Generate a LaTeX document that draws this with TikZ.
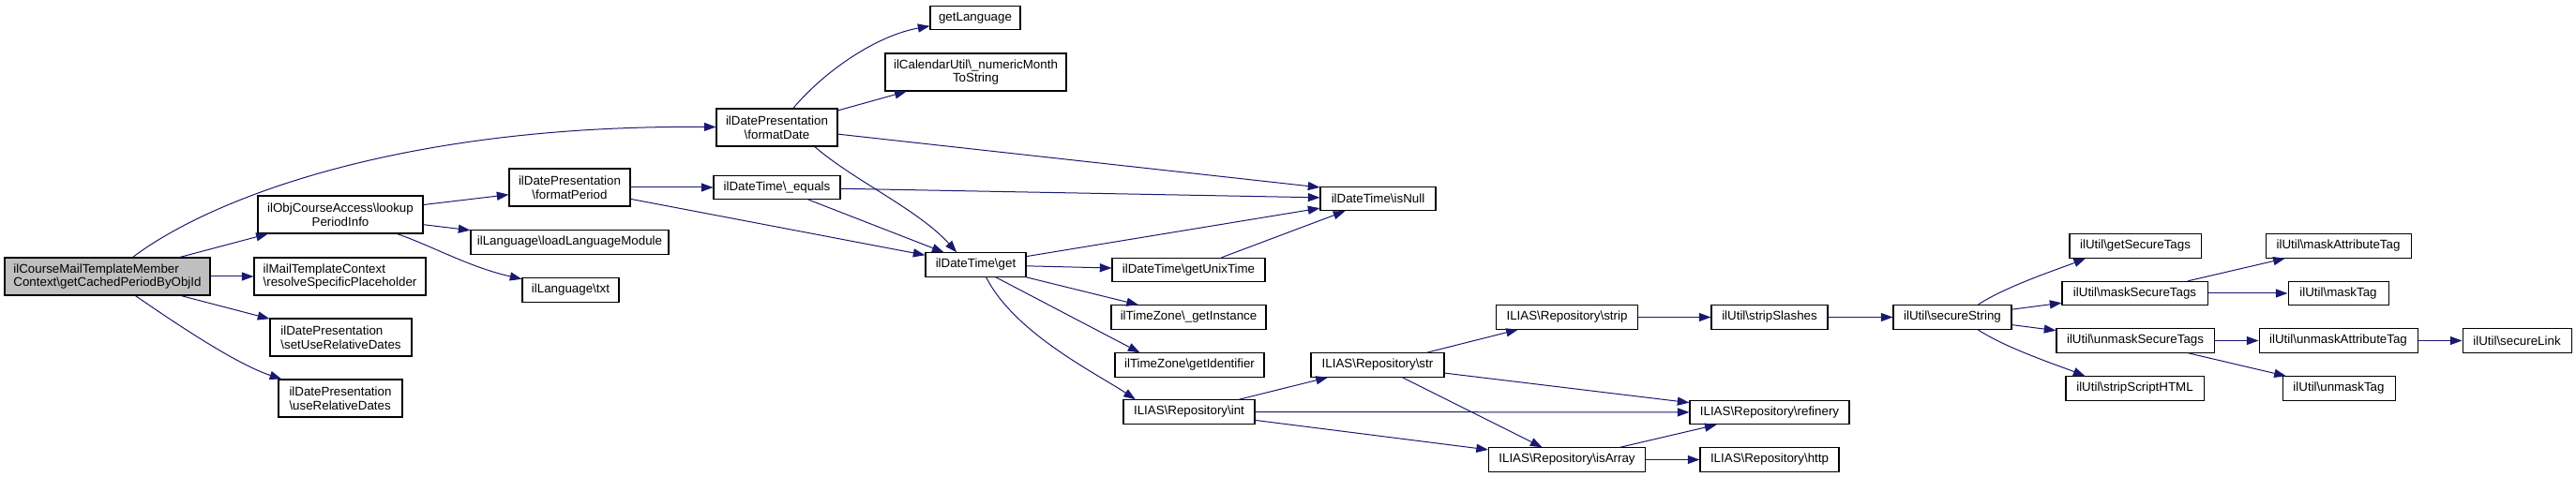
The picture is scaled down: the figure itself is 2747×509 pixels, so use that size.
\documentclass[tikz,border=0pt]{standalone}
\usepackage{fontspec}
\setmainfont{Liberation Sans}
\usetikzlibrary{arrows.meta}
\definecolor{edgeblue}{HTML}{191970}
\definecolor{mainfill}{HTML}{BFBFBF}
\newcommand\bsl{\textbackslash}

\begin{document}
\begin{tikzpicture}[x=0.75pt, y=-0.75pt, >={Triangle[length=9.5pt,width=6.8pt]},
  fn/.style={draw=black, line width=0.8pt, font=\fontsize{10}{11}\selectfont, inner xsep=2pt, inner ysep=1pt, minimum height=19pt},
  fnn/.style={fn, minimum height=30pt},
  wd/.style={minimum width=#1*0.75pt},
  callto/.style={draw=edgeblue, line width=0.75pt, ->}]
\useasboundingbox (0,0) rectangle (2747,509);
\node[fnn, wd=219, fill=mainfill, align=left] (main) at (114.5,295) {ilCourseMailTemplateMember\\Context\bsl getCachedPeriodByObjId};
\node[fnn, wd=176, align=center] (lpi) at (363,229) {ilObjCourseAccess\bsl lookup\\PeriodInfo};
\node[fnn, wd=183, align=left] (rsp) at (362.5,295) {ilMailTemplateContext\\\bsl resolveSpecificPlaceholder};
\node[fnn, wd=151, align=left] (surd) at (363.5,360) {ilDatePresentation\\\bsl setUseRelativeDates};
\node[fnn, wd=132, align=left] (urd) at (363,425) {ilDatePresentation\\\bsl useRelativeDates};
\node[fnn, wd=129, align=center] (fd) at (828.5,136) {ilDatePresentation\\\bsl formatDate};
\node[fnn, wd=129, align=center] (fp) at (607.5,200) {ilDatePresentation\\\bsl formatPeriod};
\node[fn, wd=135] (eq) at (828.5,200) {ilDateTime\bsl\_equals};
\node[fn, wd=211] (llm) at (607.5,258.5) {ilLanguage\bsl loadLanguageModule};
\node[fn, wd=103] (txt) at (608.5,309.5) {ilLanguage\bsl txt};
\node[fn, wd=96] (gl) at (1040,19) {getLanguage};
\node[fnn, wd=193, align=center] (nms) at (1040.5,77) {ilCalendarUtil\bsl\_numericMonth\\ToString};
\node[fn, wd=123] (isn) at (1469.5,212) {ilDateTime\bsl isNull};
\node[fn, wd=107] (get) at (1040.5,282.5) {ilDateTime\bsl get};
\node[fn, wd=163] (gut) at (1267.5,288) {ilDateTime\bsl getUnixTime};
\node[fn, wd=165] (gi) at (1267.5,338.5) {ilTimeZone\bsl\_getInstance};
\node[fn, wd=159] (gid) at (1268.5,389.5) {ilTimeZone\bsl getIdentifier};
\node[fn, wd=140] (int) at (1268,439.5) {ILIAS\bsl Repository\bsl int};
\node[fn, wd=142] (str) at (1469,389.5) {ILIAS\bsl Repository\bsl str};
\node[fn, wd=151] (strip) at (1671,338.5) {ILIAS\bsl Repository\bsl strip};
\node[fn, wd=124] (ssl) at (1887,338.5) {ilUtil\bsl stripSlashes};
\node[fn, wd=170] (ref) at (1887,440) {ILIAS\bsl Repository\bsl refinery};
\node[fn, wd=167] (isa) at (1671,490.5) {ILIAS\bsl Repository\bsl isArray};
\node[fn, wd=148] (http) at (1887,490.5) {ILIAS\bsl Repository\bsl http};
\node[fn, wd=126] (sst) at (2082,338.5) {ilUtil\bsl secureString};
\node[fn, wd=140] (gst) at (2277,262.5) {ilUtil\bsl getSecureTags};
\node[fn, wd=155] (mst) at (2276.5,313) {ilUtil\bsl maskSecureTags};
\node[fn, wd=168] (ust) at (2277,363.5) {ilUtil\bsl unmaskSecureTags};
\node[fn, wd=147] (ssh) at (2276.5,414.5) {ilUtil\bsl stripScriptHTML};
\node[fn, wd=155] (mat) at (2493.5,262.5) {ilUtil\bsl maskAttributeTag};
\node[fn, wd=107] (mt) at (2493.5,313) {ilUtil\bsl maskTag};
\node[fn, wd=169] (uat) at (2493.5,363.5) {ilUtil\bsl unmaskAttributeTag};
\node[fn, wd=116] (sl) at (2684,363.5) {ilUtil\bsl secureLink};
\node[fn, wd=120] (umt) at (2494,414.5) {ilUtil\bsl unmaskTag};

\draw[callto] (main) .. controls (220,215) and (420,133) .. (fd);
\draw[callto] (main) -- (lpi);
\draw[callto] (main) -- (rsp);
\draw[callto] (main) -- (surd);
\draw[callto] (main) .. controls (180,340) and (250,388) .. (urd);
\draw[callto] (lpi) -- (fp);
\draw[callto] (lpi) -- (llm);
\draw[callto] (lpi) .. controls (460,262) and (500,285) .. (txt);
\draw[callto] (fp) -- (eq);
\draw[callto] (fp) -- (get);
\draw[callto] (fd) .. controls (880,75) and (935,38) .. (gl);
\draw[callto] (fd) -- (nms);
\draw[callto] (fd) -- (isn.169);
\draw[callto] (fd.-27) .. controls +(40,35) and +(-40,-45) .. (get.147);
\draw[callto] (eq) -- (isn);
\draw[callto] (eq) -- (get);
\draw[callto] (get) -- (isn);
\draw[callto] (get) -- (gut);
\draw[callto] (get) -- (gi);
\draw[callto] (get.-32) -- (gid.166);
\draw[callto] (get.-50) .. controls +(30,60) and +(-40,-27) .. (int.167);
\draw[callto] (gut) -- (isn);
\draw[callto] (int) -- (str);
\draw[callto] (int) -- (ref);
\draw[callto] (int) -- (isa);
\draw[callto] (str) -- (strip);
\draw[callto] (str) -- (ref);
\draw[callto] (str) -- (isa);
\draw[callto] (strip) -- (ssl);
\draw[callto] (ssl) -- (sst);
\draw[callto] (isa) -- (ref);
\draw[callto] (isa) -- (http);
\draw[callto] (sst.26) .. controls +(30,-20) and +(-25,10) .. (gst.-166);
\draw[callto] (sst) -- (mst);
\draw[callto] (sst) -- (ust);
\draw[callto] (sst.-26) .. controls +(30,20) and +(-25,-10) .. (ssh.166);
\draw[callto] (mst) -- (mat);
\draw[callto] (mst) -- (mt);
\draw[callto] (ust) -- (uat);
\draw[callto] (ust) -- (umt);
\draw[callto] (uat) -- (sl);
\end{tikzpicture}
\end{document}
